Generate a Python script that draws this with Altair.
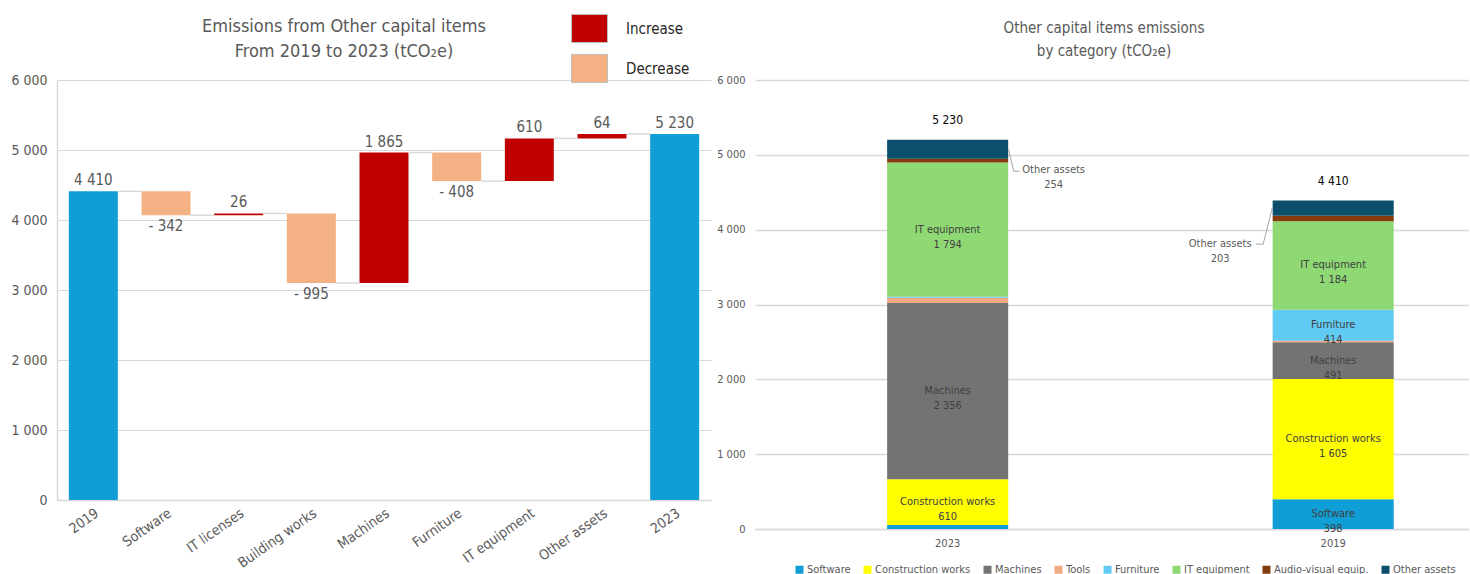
import altair as alt
import pandas as pd

FONT = "Liberation Sans Narrow, DejaVu Sans Condensed, Liberation Sans, sans-serif"
GREY = "#595959"
GRID = "#D9D9D9"

# ---------------- Left: waterfall ----------------
wf_categories = ["2019", "Software", "IT licenses", "Building works", "Machines",
                 "Furniture", "IT equipment", "Other assets", "2023"]
wf_start_total = 4410
wf_changes = [-342, 26, -995, 1865, -408, 610, 64]
wf_end_total = 5230
wf_colors = {"Increase": "#C00000", "Decrease": "#F4B183", "Total": "#0F9ED5"}


def fmt(v):
    s = f"{abs(v):,}".replace(",", " ")
    return ("- " + s) if v < 0 else s


rows = [dict(cat=wf_categories[0], y0=0, y1=wf_start_total, kind="Total",
             label=fmt(wf_start_total), lab_y=wf_start_total, pos="above")]
levels = [wf_start_total]
level = wf_start_total
for cat, ch in zip(wf_categories[1:-1], wf_changes):
    new = level + ch
    rows.append(dict(cat=cat, y0=level, y1=new,
                     kind="Increase" if ch > 0 else "Decrease",
                     label=fmt(ch), lab_y=max(level, new) if ch > 0 else min(level, new),
                     pos="above" if ch > 0 else "below"))
    level = new
    levels.append(level)
rows.append(dict(cat=wf_categories[-1], y0=0, y1=wf_end_total, kind="Total",
                 label=fmt(wf_end_total), lab_y=wf_end_total, pos="above"))
wf = pd.DataFrame(rows)
conn = pd.DataFrame({"cat": wf_categories[:-1], "nxt": wf_categories[1:], "level": levels})

xl = alt.X("cat:N", sort=wf_categories,
           scale=alt.Scale(paddingInner=0.326, paddingOuter=0.163),
           axis=alt.Axis(title=None, labelAngle=325, labelFontSize=14, labelColor=GREY,
                         labelFont=FONT, ticks=False, domainColor=GRID, domainWidth=1.5,
                         labelPadding=6))
yl = alt.Y("y0:Q", scale=alt.Scale(domain=[0, 6000]),
           axis=alt.Axis(title=None, values=[0, 1000, 2000, 3000, 4000, 5000, 6000],
                         labelExpr="replace(format(datum.value, ','), ',', ' ')",
                         labelFontSize=14, labelColor=GREY, labelFont=FONT, ticks=False,
                         domain=True, domainColor=GRID, domainWidth=1.5, gridColor=GRID,
                         gridWidth=1, labelPadding=10))

bars = alt.Chart(wf).mark_bar().encode(
    x=xl, y=yl, y2="y1:Q",
    color=alt.Color("kind:N",
                    scale=alt.Scale(domain=list(wf_colors.keys()), range=list(wf_colors.values())),
                    legend=alt.Legend(values=["Increase", "Decrease"], title=None,
                                      orient="none", legendX=514, legendY=-70,
                                      symbolType="M-1,-0.78H1V0.78H-1Z", symbolSize=1296,
                                      symbolStrokeColor="#BFBFBF", symbolStrokeWidth=1,
                                      symbolOpacity=1,
                                      labelFontSize=15, labelColor="#262626", labelFont=FONT,
                                      labelOffset=18, rowPadding=5)),
)
connectors = alt.Chart(conn).mark_rule(color=GRID, strokeWidth=1.5, xOffset=24.5,
                                       x2Offset=-24.5).encode(
    x=alt.X("cat:N", sort=wf_categories), x2="nxt:N", y="level:Q")
lab_above = alt.Chart(wf).transform_filter("datum.pos == 'above'").mark_text(
    baseline="middle", dy=-11, fontSize=15, color=GREY, font=FONT).encode(
    x=alt.X("cat:N", sort=wf_categories), y="lab_y:Q", text="label:N")
lab_below = alt.Chart(wf).transform_filter("datum.pos == 'below'").mark_text(
    baseline="middle", dy=11, fontSize=15, color=GREY, font=FONT).encode(
    x=alt.X("cat:N", sort=wf_categories), y="lab_y:Q", text="label:N")

left = alt.layer(bars, connectors, lab_above, lab_below).properties(
    width=654, height=420,
    title=alt.Title(["Emissions from Other capital items", "From 2019 to 2023 (tCO₂e)"],
                    fontSize=18, color=GREY, font=FONT, fontWeight="normal",
                    lineHeight=25, dx=-40, offset=-51, anchor="middle"))

# ---------------- Right: stacked bars ----------------
rc_years = ["2023", "2019"]
rc_categories = ["Software", "Construction works", "Machines", "Tools", "Furniture",
                 "IT equipment", "Audio-visual equip.", "Other assets"]
rc_values_2023 = [55, 610, 2356, 70, 12, 1794, 50, 254]
rc_values_2019 = [398, 1605, 491, 22, 414, 1184, 72, 203]
rc_totals = [5230, 4410]
rc_colors = ["#0F9ED5", "#FFFF00", "#737373", "#F1A983", "#61CBF3", "#8ED973",
             "#843C0C", "#0B4F6C"]
rc_labelled = {"2023": ["Construction works", "Machines", "IT equipment"],
               "2019": ["Software", "Construction works", "Machines", "Furniture", "IT equipment"]}

srows = []
for yr, vals in zip(rc_years, [rc_values_2023, rc_values_2019]):
    base = 0
    for i, (cat, v) in enumerate(zip(rc_categories, vals)):
        srows.append(dict(year=yr, cat=cat, order=i, y0=base, y1=base + v, mid=base + v / 2,
                          text=f"{cat}\n{fmt(v)}", inside=cat in rc_labelled[yr]))
        base += v
st = pd.DataFrame(srows)
tot = pd.DataFrame({"year": rc_years, "total": rc_totals,
                    "text": [fmt(t) for t in rc_totals]})

xr = alt.X("year:N", sort=rc_years,
           scale=alt.Scale(paddingInner=0.686, paddingOuter=0.269, align=0.637),
           axis=alt.Axis(title=None, labelAngle=0, labelFontSize=11, labelColor=GREY,
                         labelFont=FONT, ticks=False, domainColor=GRID, domainWidth=1.5,
                         labelPadding=8))
yr_ = alt.Y("y0:Q", scale=alt.Scale(domain=[0, 6000]),
            axis=alt.Axis(title=None, values=[0, 1000, 2000, 3000, 4000, 5000, 6000],
                          labelExpr="replace(format(datum.value, ','), ',', ' ')",
                          labelFontSize=11, labelColor=GREY, labelFont=FONT, ticks=False,
                          domain=False, gridColor=GRID, gridWidth=1.5, labelPadding=10))

sbars = alt.Chart(st).mark_bar().encode(
    x=xr, y=yr_, y2="y1:Q",
    color=alt.Color("cat:N", scale=alt.Scale(domain=rc_categories, range=rc_colors),
                    legend=alt.Legend(title=None, orient="none", direction="horizontal",
                                      columns=8, legendX=39, legendY=484,
                                      symbolType="square", symbolSize=64,
                                      symbolStrokeWidth=0, labelFontSize=11,
                                      labelColor=GREY, labelFont=FONT, labelOffset=2,
                                      columnPadding=11)),
)
inside = alt.Chart(st).transform_filter("datum.inside").mark_text(
    baseline="middle", fontSize=11, color="#404040", font=FONT, lineBreak="\n",
    lineHeight=15).encode(x=alt.X("year:N", sort=rc_years), y="mid:Q", text="text:N")
totals = alt.Chart(tot).mark_text(baseline="middle", dy=-18, fontSize=12, color="#000000",
                                  font=FONT).encode(
    x=alt.X("year:N", sort=rc_years), y="total:Q", text="text:N")

oa = st[st.cat == "Other assets"]
oa23 = oa[oa.year == "2023"]
oa19 = oa[oa.year == "2019"]
LEAD = "#A6A6A6"
xa = alt.X("year:N", sort=rc_years)
c23_a = alt.Chart(oa23).mark_rule(color=LEAD, strokeWidth=1, xOffset=61, x2Offset=66,
                                  y2Offset=22).encode(x=xa, x2="year:N", y="mid:Q", y2="mid:Q")
c23_b = alt.Chart(oa23).mark_rule(color=LEAD, strokeWidth=1, xOffset=66, x2Offset=72,
                                  yOffset=22, y2Offset=22).encode(x=xa, x2="year:N", y="mid:Q", y2="mid:Q")
c23_t = alt.Chart(oa23).mark_text(baseline="middle", dx=106, dy=21, fontSize=11, color=GREY,
                                  font=FONT, lineBreak="\n", lineHeight=15).encode(
    x=xa, y="mid:Q", text=alt.Text("text:N"))
c19_a = alt.Chart(oa19).mark_rule(color=LEAD, strokeWidth=1, xOffset=-61, x2Offset=-70,
                                  y2Offset=36).encode(x=xa, x2="year:N", y="mid:Q", y2="mid:Q")
c19_b = alt.Chart(oa19).mark_rule(color=LEAD, strokeWidth=1, xOffset=-70, x2Offset=-77,
                                  yOffset=36, y2Offset=36).encode(x=xa, x2="year:N", y="mid:Q", y2="mid:Q")
c19_t = alt.Chart(oa19).mark_text(baseline="middle", dx=-113, dy=36, fontSize=11, color=GREY,
                                  font=FONT, lineBreak="\n", lineHeight=15).encode(
    x=xa, y="mid:Q", text=alt.Text("text:N"))

right = alt.layer(sbars, inside, totals, c23_a, c23_b, c23_t, c19_a, c19_b, c19_t).properties(
    width=714, height=449,
    title=alt.Title(["Other capital items emissions", "by category (tCO₂e)"],
                    fontSize=15, color=GREY, font=FONT, fontWeight="normal",
                    lineHeight=23, dx=-8, offset=15, anchor="middle"))

chart = alt.hconcat(left, right, spacing=44, bounds="flush").resolve_scale(
    color="independent", x="independent", y="independent"
).properties(
    padding={"left": 10, "top": 10, "right": 0, "bottom": 0},
    background="white",
).configure_view(stroke=None)

chart.save("out.html", embed_options={"renderer": "svg", "actions": False})
